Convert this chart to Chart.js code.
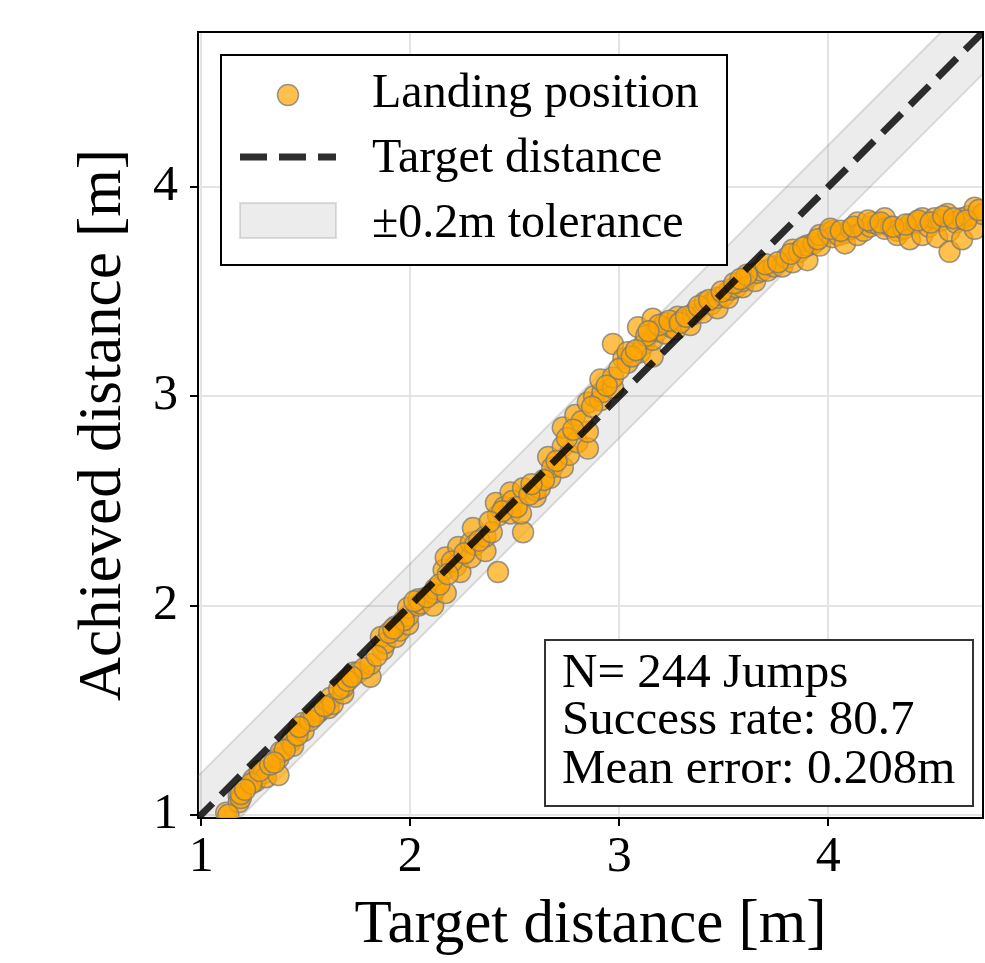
<!DOCTYPE html>
<html>
<head>
<meta charset="utf-8">
<script src="https://cdn.jsdelivr.net/npm/chart.js@4/dist/chart.umd.min.js"></script>
<style>
html, body { margin: 0; padding: 0; background: #fff; }
#wrap { width: 985px; height: 963px; }
</style>
</head>
<body>
<div id="wrap"><canvas id="c" width="985" height="963"></canvas></div>
<script>
// Values (target vs achieved jump distance, m)
const targetDist = [
  1.12, 1.18, 1.18, 1.19, 1.25, 1.26, 1.30, 1.31, 1.37, 1.37, 1.38, 1.43, 1.44, 1.44, 1.49, 1.49,
  1.56, 1.57, 1.61, 1.62, 1.63, 1.68, 1.68, 1.73, 1.75, 1.81, 1.81, 1.87, 1.86, 1.88, 1.93, 1.93,
  1.95, 1.99, 1.99, 1.99, 2.04, 2.04, 2.05, 2.11, 2.11, 2.12, 2.17, 2.16, 2.17, 2.22, 2.24, 2.23,
  2.29, 2.29, 2.30, 2.31, 2.36, 2.36, 2.42, 2.42, 2.41, 2.45, 2.48, 2.48, 2.49, 2.54, 2.53, 2.54,
  2.60, 2.60, 2.62, 2.67, 2.66, 2.68, 2.73, 2.73, 2.73, 2.76, 2.79, 2.80, 2.85, 2.85, 2.85, 2.88,
  2.91, 2.92, 2.91, 2.97, 2.97, 2.97, 3.02, 3.04, 3.04, 3.10, 3.09, 3.12, 3.16, 3.16, 3.16, 3.18,
  3.22, 3.22, 3.25, 3.27, 3.28, 3.30, 3.34, 3.35, 3.37, 3.40, 3.41, 3.44, 3.47, 3.47, 3.50, 3.52,
  3.53, 3.56, 3.59, 3.59, 3.62, 3.65, 3.66, 3.68, 3.71, 3.74, 3.78, 3.80, 3.83, 3.83, 3.86, 3.90,
  3.90, 3.93, 3.96, 3.96, 4.00, 4.02, 4.02, 4.05, 4.08, 4.08, 4.11, 4.14, 4.14, 4.17, 4.20, 4.21,
  4.24, 4.27, 4.27, 4.30, 4.33, 4.33, 4.36, 4.39, 4.39, 4.42, 4.45, 4.45, 4.48, 4.51, 4.52, 4.54,
  4.57, 4.58, 4.58, 4.61, 4.64, 4.64, 4.67, 4.70, 4.70, 4.74,
  1.13, 1.19, 1.24, 1.28, 1.33, 1.40, 1.46, 1.52, 1.54, 1.59, 1.66, 1.70, 1.78, 1.84, 1.90, 1.97,
  2.02, 2.08, 2.14, 2.20, 2.26, 2.33, 2.39, 2.44, 2.51, 2.57, 2.64, 2.70, 2.75, 2.82, 2.87, 2.94,
  3.00, 3.06, 3.13, 3.19, 3.24, 3.29, 3.32, 3.38, 3.43, 3.49, 3.55, 3.61, 3.70, 3.76, 3.82, 3.88,
  3.95, 4.01, 4.06, 4.12, 4.19, 4.25, 4.31, 4.37, 4.43, 4.49, 4.55, 4.60, 4.66, 4.72,
  1.21, 1.35, 1.47, 1.72, 1.92, 2.18, 2.38, 2.58, 2.78, 3.08, 3.14, 3.58
];
const achievedDist = [
  1.01, 1.09, 1.06, 1.08, 1.17, 1.16, 1.20, 1.18, 1.19, 1.27, 1.30, 1.35, 1.37, 1.33, 1.40, 1.44,
  1.49, 1.50, 1.51, 1.56, 1.53, 1.58, 1.61, 1.68, 1.68, 1.66, 1.72, 1.79, 1.85, 1.82, 1.85, 1.90,
  1.88, 1.91, 1.95, 1.99, 2.00, 2.03, 2.01, 2.00, 2.06, 2.08, 2.06, 2.17, 2.23, 2.19, 2.16, 2.28,
  2.23, 2.30, 2.37, 2.29, 2.26, 2.33, 2.16, 2.43, 2.49, 2.47, 2.44, 2.54, 2.50, 2.35, 2.44, 2.56,
  2.52, 2.55, 2.56, 2.61, 2.71, 2.66, 2.66, 2.76, 2.85, 2.72, 2.91, 2.78, 2.75, 2.83, 2.97, 3.00,
  2.98, 3.02, 3.08, 3.04, 3.09, 3.25, 3.18, 3.16, 3.21, 3.21, 3.33, 3.25, 3.19, 3.37, 3.27, 3.31,
  3.30, 3.35, 3.33, 3.32, 3.38, 3.36, 3.34, 3.39, 3.41, 3.40, 3.45, 3.44, 3.42, 3.47, 3.48, 3.47,
  3.51, 3.52, 3.52, 3.55, 3.57, 3.55, 3.59, 3.60, 3.60, 3.62, 3.62, 3.66, 3.64, 3.70, 3.69, 3.65,
  3.72, 3.73, 3.72, 3.77, 3.78, 3.79, 3.76, 3.77, 3.78, 3.73, 3.80, 3.83, 3.77, 3.79, 3.81, 3.83,
  3.82, 3.85, 3.80, 3.81, 3.79, 3.77, 3.80, 3.82, 3.75, 3.83, 3.85, 3.77, 3.81, 3.85, 3.76, 3.84,
  3.87, 3.79, 3.69, 3.83, 3.85, 3.75, 3.86, 3.90, 3.80, 3.87,
  1.00, 1.10, 1.15, 1.21, 1.24, 1.31, 1.38, 1.45, 1.47, 1.52, 1.60, 1.64, 1.70, 1.76, 1.87, 1.93,
  2.02, 2.04, 2.10, 2.21, 2.25, 2.31, 2.35, 2.45, 2.47, 2.53, 2.60, 2.69, 2.80, 2.88, 2.95, 3.05,
  3.13, 3.19, 3.29, 3.34, 3.36, 3.35, 3.38, 3.43, 3.46, 3.50, 3.54, 3.58, 3.63, 3.64, 3.68, 3.71,
  3.75, 3.80, 3.79, 3.81, 3.84, 3.83, 3.81, 3.82, 3.84, 3.83, 3.86, 3.85, 3.84, 3.89,
  1.12, 1.25, 1.42, 1.66, 1.89, 2.15, 2.40, 2.58, 2.84, 3.22, 3.31, 3.56
];
const tickValues = [1, 2, 3, 4];
const axisRange = [0.985, 4.74];
const diagonalEnds = [0.7, 5.0];
const tolerance = 0.2;
const legendLabels = ['Landing position', 'Target distance', '\u00b10.2m tolerance'];
const statsLines = ['N= 244 Jumps', 'Success rate: 80.7', 'Mean error: 0.208m'];

const FONT = "'Liberation Serif', 'Times New Roman', serif";
const ORANGE = 'rgba(255,165,0,0.7)';
const EDGE = 'rgba(120,120,120,0.75)';
const BAND_FILL = 'rgba(128,128,128,0.15)';
const BAND_EDGE = 'rgba(128,128,128,0.25)';
const DASH = 'rgba(0,0,0,0.82)';

const points = targetDist.map((t, i) => ({ x: t, y: achievedDist[i] }));
const diagonal = diagonalEnds.map((v) => ({ x: v, y: v }));
const bandLow = diagonalEnds.map((v) => ({ x: v, y: v - tolerance }));
const bandHigh = diagonalEnds.map((v) => ({ x: v, y: v + tolerance }));

// spines on top/right + legend + stats box (matplotlib style)
const overlay = {
  id: 'overlay',
  afterDatasetsDraw(chart) {
    const { ctx, chartArea: a } = chart;
    ctx.save();
    ctx.strokeStyle = '#000';
    ctx.lineWidth = 2;
    ctx.beginPath();
    ctx.moveTo(a.left, a.top); ctx.lineTo(a.right, a.top); ctx.lineTo(a.right, a.bottom);
    ctx.stroke();
    ctx.restore();
  },
  afterDraw(chart) {
    const ctx = chart.ctx;
    ctx.save();
    // legend
    ctx.fillStyle = '#fff';
    ctx.fillRect(221, 55, 506, 210);
    ctx.strokeStyle = '#000';
    ctx.lineWidth = 2;
    ctx.strokeRect(221, 55, 506, 210);

    ctx.beginPath();
    ctx.arc(288, 95, 10.5, 0, Math.PI * 2);
    ctx.fillStyle = ORANGE; ctx.fill();
    ctx.strokeStyle = EDGE; ctx.lineWidth = 1.5; ctx.stroke();

    ctx.beginPath();
    ctx.setLineDash([27, 12]);
    ctx.strokeStyle = DASH; ctx.lineWidth = 7;
    ctx.moveTo(240, 157); ctx.lineTo(336, 157);
    ctx.stroke();
    ctx.setLineDash([]);

    ctx.fillStyle = BAND_FILL;
    ctx.fillRect(240, 203, 96, 35);
    ctx.strokeStyle = BAND_EDGE; ctx.lineWidth = 2;
    ctx.strokeRect(240, 203, 96, 35);

    ctx.fillStyle = '#000';
    ctx.font = '48px ' + FONT;
    ctx.textBaseline = 'alphabetic';
    ctx.textAlign = 'left';
    legendLabels.forEach((s, i) => ctx.fillText(s, 372, 107 + i * 65));

    // stats box
    ctx.fillStyle = '#fff';
    ctx.fillRect(545, 640, 428, 166);
    ctx.strokeStyle = '#333';
    ctx.lineWidth = 2;
    ctx.strokeRect(545, 640, 428, 166);
    ctx.fillStyle = '#000';
    ctx.font = '49px ' + FONT;
    const baselines = [687, 734, 783];
    statsLines.forEach((s, i) => ctx.fillText(s, 562, baselines[i]));
    ctx.restore();
  }
};

function axis(titleText, extra) {
  return Object.assign({
    type: 'linear',
    min: axisRange[0],
    max: axisRange[1],
    afterBuildTicks: (s) => { s.ticks = tickValues.map((v) => ({ value: v })); },
    ticks: { color: '#000', font: { family: FONT, size: 50 }, autoSkip: false, maxRotation: 0, callback: (v) => String(v) },
    grid: { color: '#e4e4e4', lineWidth: 2, tickColor: '#000', tickLength: 8, tickWidth: 2 },
    border: { color: '#000', width: 2 },
    title: { display: true, text: titleText, color: '#000', font: { family: FONT, size: 61 } }
  }, extra);
}

const xAxis = axis('Target distance [m]', {
  afterFit: (s) => { s.height = 145; s.paddingLeft = 0; s.paddingRight = 0; }
});
xAxis.ticks.padding = 2;
xAxis.title.padding = 0;
const yAxis = axis('Achieved distance [m]', {
  afterFit: (s) => { s.width = 198; s.paddingTop = 0; s.paddingBottom = 0; }
});
yAxis.ticks.padding = 12;
yAxis.title.padding = { top: 67, bottom: 0 };

new Chart(document.getElementById('c'), {
  type: 'scatter',
  data: {
    datasets: [
      { type: 'line', data: bandLow, borderColor: BAND_EDGE, borderWidth: 2, pointRadius: 0, fill: false, order: 3 },
      { type: 'line', data: bandHigh, borderColor: BAND_EDGE, borderWidth: 2, pointRadius: 0, fill: '-1', backgroundColor: BAND_FILL, order: 3 },
      { data: points, backgroundColor: ORANGE, borderColor: EDGE, borderWidth: 1.5, pointRadius: 10.5, order: 1 },
      { type: 'line', data: diagonal, borderColor: DASH, borderWidth: 7, borderDash: [27, 12], pointRadius: 0, fill: false, order: 0 }
    ]
  },
  options: {
    responsive: false,
    animation: false,
    layout: { autoPadding: false, padding: { top: 32, right: 2, left: 0, bottom: 0 } },
    plugins: { legend: { display: false }, tooltip: { enabled: false } },
    scales: { x: xAxis, y: yAxis }
  },
  plugins: [overlay]
});
</script>
</body>
</html>
